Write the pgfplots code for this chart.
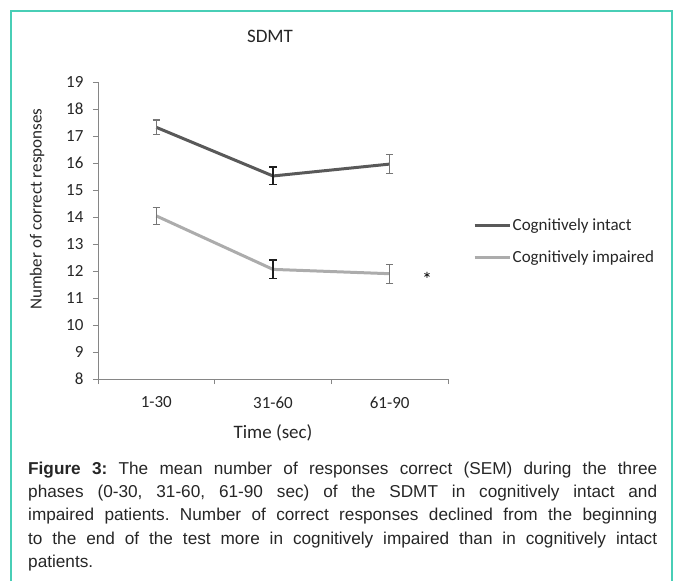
\documentclass[border=0pt]{standalone}
\usepackage{pgfplots}
\pgfplotsset{compat=1.18}
\usepackage{fontspec}
\setmainfont{Liberation Sans}
\newfontfamily\chartfont{Carlito}
\definecolor{bordercol}{RGB}{72,206,182}
\definecolor{intact}{RGB}{89,89,89}
\definecolor{impaired}{RGB}{172,172,172}
\definecolor{axisgray}{RGB}{134,134,134}
\definecolor{errgray}{RGB}{118,118,118}
\definecolor{errdark}{RGB}{30,30,30}
\definecolor{txt}{RGB}{38,38,38}
\newcommand{\cf}{\chartfont\fontsize{17}{19.5}\selectfont}
\newcommand{\cfb}{\chartfont\fontsize{19}{22}\selectfont}
\begin{document}
\frenchspacing
\begin{tikzpicture}
\useasboundingbox (0pt,0pt) rectangle (676pt,-581pt);
\draw[bordercol, line width=2pt] (11pt,-581pt) -- (11pt,-11pt) -- (672pt,-11pt) -- (672pt,-581pt);
\node[font=\cfb, txt] at (270pt,-36pt) {SDMT};
\begin{axis}[
  at={(98pt,-379pt)}, anchor=south west,
  scale only axis, width=350pt, height=297pt,
  xmin=-0.5, xmax=2.5, ymin=8, ymax=19,
  axis lines*=left,
  axis line style={axisgray, line width=1pt},
  tick align=outside,
  major tick length=5pt, minor tick length=5pt,
  tick style={axisgray, line width=0.8pt},
  ytick={8,9,...,19},
  xtick={0,1,2}, xticklabels={1-30,31-60,61-90},
  major x tick style={draw=none},
  minor xtick={-0.5,0.5,1.5,2.5},
  /pgf/number format/assume math mode=true,
  ticklabel style={font=\cf, txt},
  xticklabel style={yshift=-9pt},
  yticklabel style={xshift=-6pt},
  xlabel={Time (sec)}, ylabel={Number of correct responses},
  ylabel style={font=\cf, txt, at={(axis description cs:-0.174,0.572)}, anchor=center},
  xlabel style={font=\cfb, txt, at={(axis description cs:0.5,-0.182)}, anchor=center},
  legend style={at={(axis description cs:1.0714,0.463)}, anchor=west, draw=none, fill=none, inner sep=0pt, font=\cf, text=txt, row sep=15pt, nodes={inner sep=1.5pt}},
  legend cell align=left,
  legend image code/.code={\draw[#1,line width=3pt] (0pt,0pt) -- (35pt,0pt);},
  clip=false,
]
\addplot[intact, line width=3pt, mark=none] coordinates {(0,17.32) (1,15.52) (2,15.96)};
\addlegendentry{Cognitively intact}
\addplot[impaired, line width=3pt, mark=none] coordinates {(0,14.04) (1,12.06) (2,11.90)};
\addlegendentry{Cognitively impaired}
\addplot[forget plot, draw=none, mark=none,
  error bars/.cd, y dir=both, y explicit, error bar style={draw=errgray, line width=1.2pt},
  error mark options={draw=errgray, line width=1.2pt, mark size=3.7pt, rotate=90}]
  coordinates {(0,17.32) +- (0,0.27) (2,15.96) +- (0,0.36) (0,14.04) +- (0,0.32) (2,11.90) +- (0,0.35)};
\addplot[forget plot, draw=none, mark=none,
  error bars/.cd, y dir=both, y explicit, error bar style={draw=errdark, line width=1.2pt},
  error mark options={draw=errdark, line width=1.2pt, mark size=3.7pt, rotate=90}]
  coordinates {(1,15.52) +- (0,0.33) (1,12.06) +- (0,0.35)};
\node[font=\chartfont\fontsize{20}{22}\selectfont, text=black] at (axis cs:2.32,11.70) {*};
\end{axis}
\node[anchor=north west, inner sep=0pt, align=left, text=txt,
  font=\fontsize{17.2}{23.3}\selectfont] at (28pt,-461pt) {%
\makebox[629pt][s]{\rule{0pt}{13pt}\textbf{Figure 3:} The mean number of responses correct (SEM) during the three}\\
\makebox[629pt][s]{phases (0-30, 31-60, 61-90 sec) of the SDMT in cognitively intact and}\\
\makebox[629pt][s]{impaired patients. Number of correct responses declined from the beginning}\\
\makebox[629pt][s]{to the end of the test more in cognitively impaired than in cognitively intact}\\
patients.};
\end{tikzpicture}
\end{document}
